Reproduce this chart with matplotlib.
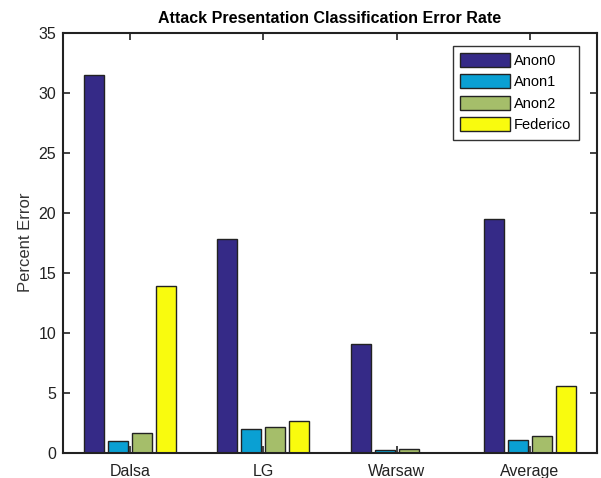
import numpy as np
import matplotlib
matplotlib.use('Agg')
import matplotlib.pyplot as plt

plt.rcParams['font.family'] = ['Liberation Sans', 'DejaVu Sans']

# Data
categories = ['Dalsa', 'LG', 'Warsaw', 'Average']
series = ['Anon0', 'Anon1', 'Anon2', 'Federico']
anon0 = [31.5, 17.8, 9.05, 19.5]
anon1 = [0.95, 2.0, 0.22, 1.06]
anon2 = [1.67, 2.1, 0.28, 1.37]
federico = [13.9, 2.6, 0.0, 5.53]
values = [anon0, anon1, anon2, federico]
colors = ['#352A87', '#0AA0D3', '#A5BE6A', '#F9FB0E']

fig = plt.figure(figsize=(6.01, 4.78), dpi=100)
ax = fig.add_axes([0.105, 0.053, 0.888, 0.879])

x = np.arange(1, len(categories) + 1)
step = 0.18
width = 0.15
for i, (name, vals) in enumerate(zip(series, values)):
    offset = (i - 1.5) * step
    ax.bar(x + offset, vals, width, color=colors[i], edgecolor='#222222',
           linewidth=1.0, label=name)

ax.set_xlim(0.5, 4.5)
ax.set_ylim(0, 35)
ax.set_xticks(x)
ax.set_xticklabels(categories)
ax.set_yticks(np.arange(0, 36, 5))
ax.tick_params(direction='in', length=5, width=1.2, top=True, right=True,
               labelsize=11.5, colors='#222222')
ax.tick_params(axis='x', pad=8)
ax.tick_params(axis='y', pad=5)
for s in ax.spines.values():
    s.set_linewidth(1.5)
    s.set_color('#222222')
ax.set_ylabel('Percent Error', fontsize=12, color='#333333')
ax.set_title('Attack Presentation Classification Error Rate', fontsize=11.5,
             fontweight='bold', pad=7)

leg = ax.legend(loc='upper right', bbox_to_anchor=(0.966, 0.969),
                borderaxespad=0, fontsize=10.5,
                handlelength=3.4, handleheight=1.1, handletextpad=0.3,
                labelspacing=0.45, borderpad=0.5, fancybox=False, framealpha=1)
leg.get_frame().set_edgecolor('#333333')
leg.get_frame().set_linewidth(1.0)

fig.savefig('out.png', dpi=100)
